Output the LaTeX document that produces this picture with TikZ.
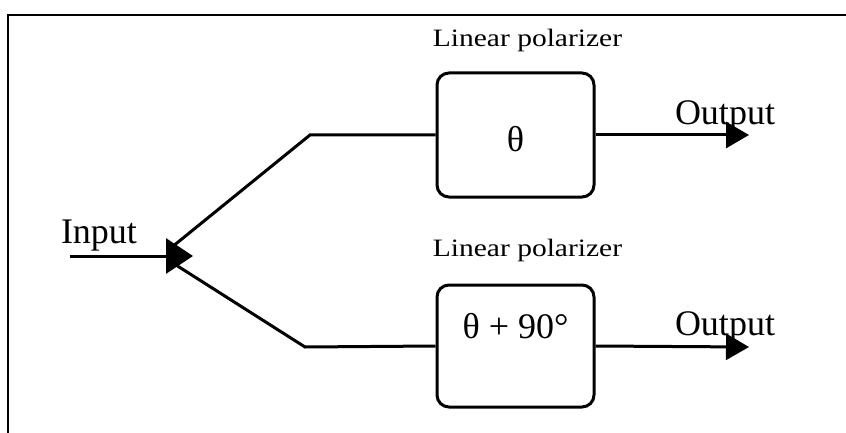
\documentclass[tikz,border=0pt]{standalone}
\usepackage{fontspec}
\setmainfont{Liberation Serif}
\usetikzlibrary{arrows.meta}
\begin{document}
\begin{tikzpicture}[x=1pt,y=1pt,
  wire/.style={line width=3pt},
  bigtip/.style={-{Triangle[length=27pt,width=35pt]}},
  smalltip/.style={-{Triangle[length=23pt,width=26pt]}},
  polbox/.style={draw,line width=3pt,rounded corners=12pt,minimum width=157pt,inner sep=0pt},
  lbl/.style={font=\fontsize{36}{40}\selectfont,inner sep=0pt,anchor=base},
  caplbl/.style={font=\fontsize{25}{28}\selectfont,inner sep=0pt,anchor=base}]
\useasboundingbox (0,0) rectangle (846,-433);
% frame
\coordinate (fl) at (8,-15);
\coordinate (fb) at (8,-433);
\coordinate (fr) at (846,-15);
\coordinate (fm) at (82,-15);
\coordinate (fe) at (837,-15);
\draw[line width=2.4pt] (fb) -- (fl) -- (fm);
\draw[line width=1.4pt] (fm) -- (fe);
\draw[line width=2.8pt] (fe) -- (fr);
% boxes
\node[polbox,minimum height=124pt] (b1) at (515.5,-135) {};
\node[polbox,minimum height=122pt] (b2) at (515.5,-346) {};
\node[lbl] (t1) at (515.5,-151) {θ};
\node[lbl] (t2) at (515.5,-338) {θ + 90°};
\node[caplbl] (c1) at (527.5,-47) {\scalebox{1.18}[1]{Linear polarizer}};
\node[caplbl] (c2) at (527.5,-256) {\scalebox{1.18}[1]{Linear polarizer}};
% input
\coordinate (in0) at (70,-256);
\coordinate (in1) at (193,-256);
\node[lbl] (inl) at (99,-243) {Input};
\draw[wire,bigtip] (in0) -- (in1);
\coordinate (s1) at (172,-247);
\coordinate (s2) at (176,-265);
\coordinate (k1) at (310,-135);
\coordinate (k2) at (305,-347);
\draw[wire] (s1) -- (k1) -- (b1.west);
\draw[wire] (s2) -- (k2) -- (b2.west);
% outputs
\coordinate (o1) at (749,-135);
\coordinate (o2) at (749,-347);
\draw[wire,smalltip] (b1.east) -- (o1);
\draw[wire,smalltip] (b2.east) -- (o2);
\node[lbl] (ol1) at (725,-125) {Output};
\node[lbl] (ol2) at (725,-335) {Output};
\end{tikzpicture}
\end{document}
